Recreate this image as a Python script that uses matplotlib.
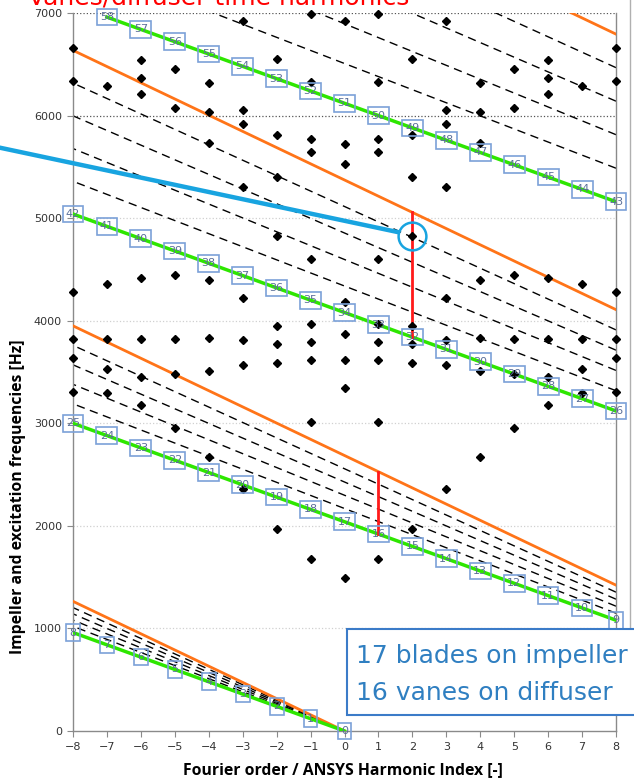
import numpy as np
import matplotlib.pyplot as plt
from matplotlib.patches import Rectangle

# Campbell / ZZENF diagram: 17 impeller blades, 16 diffuser vanes
n_blades = 17
speed_min = 120.0                          # lowest shaft frequency [Hz] (green)
speeds_mid = [127.6, 135.2, 142.8, 150.4]  # intermediate speeds (dashed)
speed_max = 158.0                          # highest shaft frequency [Hz] (orange)
harmonics = np.arange(0, 59)               # time harmonics labelled on the green line

# impeller natural frequencies [Hz] for harmonic index -8..0 (mirrored for +1..+8)
mode_index = ([-8] * 6 + [-7] * 5 + [-6] * 7 + [-5] * 6 + [-4] * 7
              + [-3] * 8 + [-2] * 8 + [-1] * 10 + [0] * 8)
mode_freq = [6656, 6337, 4280, 3819, 3634, 3308,
             6289, 4358, 3819, 3529, 3298,
             6542, 6370, 6207, 4420, 3819, 3454, 3178,
             6454, 6071, 4450, 3819, 3480, 2951,
             6321, 6038, 5729, 4397, 3829, 3513, 2674,
             6922, 6054, 5915, 5307, 4219, 3812, 3568, 2356,
             6552, 5811, 5398, 4829, 3949, 3773, 3585, 1969,
             6987, 6324, 5772, 5642, 4602, 3968, 3790, 3617, 3010, 1677,
             6922, 5720, 5528, 4186, 3871, 3617, 3340, 1490]

# highlighted resonance and the speed-range markers (index, time harmonic)
circled = (2, 4829)
red_marks = [(1, 16), (2, 32)]


def harmonic_index(k):
    # alias time harmonic k onto the ANSYS harmonic index range -8..8
    return (8 - np.asarray(k)) % n_blades - 8


fig = plt.figure(figsize=(6.34, 7.81), dpi=100)
ax = fig.add_axes([73 / 634, 50 / 781, 543 / 634, 718 / 781])

for j in range(4):
    k = np.array([max(n_blades * j - 8, 0), n_blades * j + 8])
    for s in speeds_mid:
        ax.plot(harmonic_index(k), s * k, color='black', lw=1.0,
                ls=(0, (6, 4)), zorder=2)
    ax.plot(harmonic_index(k), speed_max * k, color='#ff7418', lw=2.0, zorder=3)
    kg = np.array([k[0], min(k[1], harmonics[-1])])
    ax.plot(harmonic_index(kg), speed_min * kg, color='#2ee600', lw=2.5, zorder=3)

# speed range at the two excited harmonic indices
for x, k in red_marks:
    ax.plot([x, x], [speed_min * k, speed_max * k], color='#ff1a1a', lw=2.0, zorder=3)

mx = np.array(mode_index)
mf = np.array(mode_freq)
keep = mx != 0
all_x = np.concatenate([mx, -mx[keep]])
all_f = np.concatenate([mf, mf[keep]])
ax.plot(all_x, all_f, 'D', color='black', ms=4.3, clip_on=False, zorder=4)

for k in harmonics:
    ax.text(harmonic_index(k), speed_min * k, str(k), ha='center', va='center',
            fontsize=8, color='#5a6f99', zorder=5,
            bbox=dict(boxstyle='square,pad=0.3', fc='none', ec='#7ba1d8', lw=1.2))

# pointer to the resonance
ax.plot([-10.2, 1.6], [5690, 4862], color='#18a4e0', lw=3.2, clip_on=False,
        solid_capstyle='butt', zorder=6)
ax.plot(*circled, 'o', ms=20, mfc='none', mec='#18a4e0', mew=1.8, zorder=6)

ax.set_xlim(-8, 8)
ax.set_ylim(0, 7000)
ax.set_xticks(range(-8, 9))
ax.set_yticks(range(0, 7001, 1000))
for y in range(1000, 7001, 1000):
    c = '#555555' if y >= 6000 else '#d0d0d0'
    ax.axhline(y, color=c, lw=0.9, ls=':', zorder=0)
ax.spines['top'].set_visible(False)
for side in ['left', 'bottom', 'right']:
    ax.spines[side].set_color('#8a8a8a')
    ax.spines[side].set_linewidth(1.0)
ax.tick_params(direction='out', length=4, color='#8a8a8a', labelsize=8,
               labelcolor='#333333', pad=4)

fig.text(343 / 634, 1 - 770 / 781, 'Fourier order / ANSYS Harmonic Index [-]',
         ha='center', va='center', fontsize=11.3, fontweight='bold',
         family='Open Sans')
fig.text(18 / 634, 1 - 497 / 781, 'Impeller and excitation frequencies [Hz]',
         ha='center', va='center', rotation=90, fontsize=11.3,
         fontweight='bold', family='Open Sans')

fig.text(28 / 634, 1 - 4.5 / 781, 'Vanes/diffuser time harmonics', color='red',
         fontsize=18, va='baseline', ha='left')

fig.add_artist(Rectangle((347 / 634, 1 - 715 / 781), 300 / 634, 86 / 781,
                         transform=fig.transFigure, fc='white', ec='#3b7bc8',
                         lw=1.5, zorder=10, clip_on=False))
fig.text(356 / 634, 1 - 663 / 781, '17 blades on impeller', color='#2f7fc1',
         fontsize=18, va='baseline', zorder=11)
fig.text(356 / 634, 1 - 700 / 781, '16 vanes on diffuser', color='#2f7fc1',
         fontsize=18, va='baseline', zorder=11)
fig.add_artist(plt.Line2D([629.5 / 634] * 2, [1, 1 - 629 / 781], color='#b0b0b0',
                          lw=1.0, transform=fig.transFigure))

fig.savefig('out.png', dpi=100)
